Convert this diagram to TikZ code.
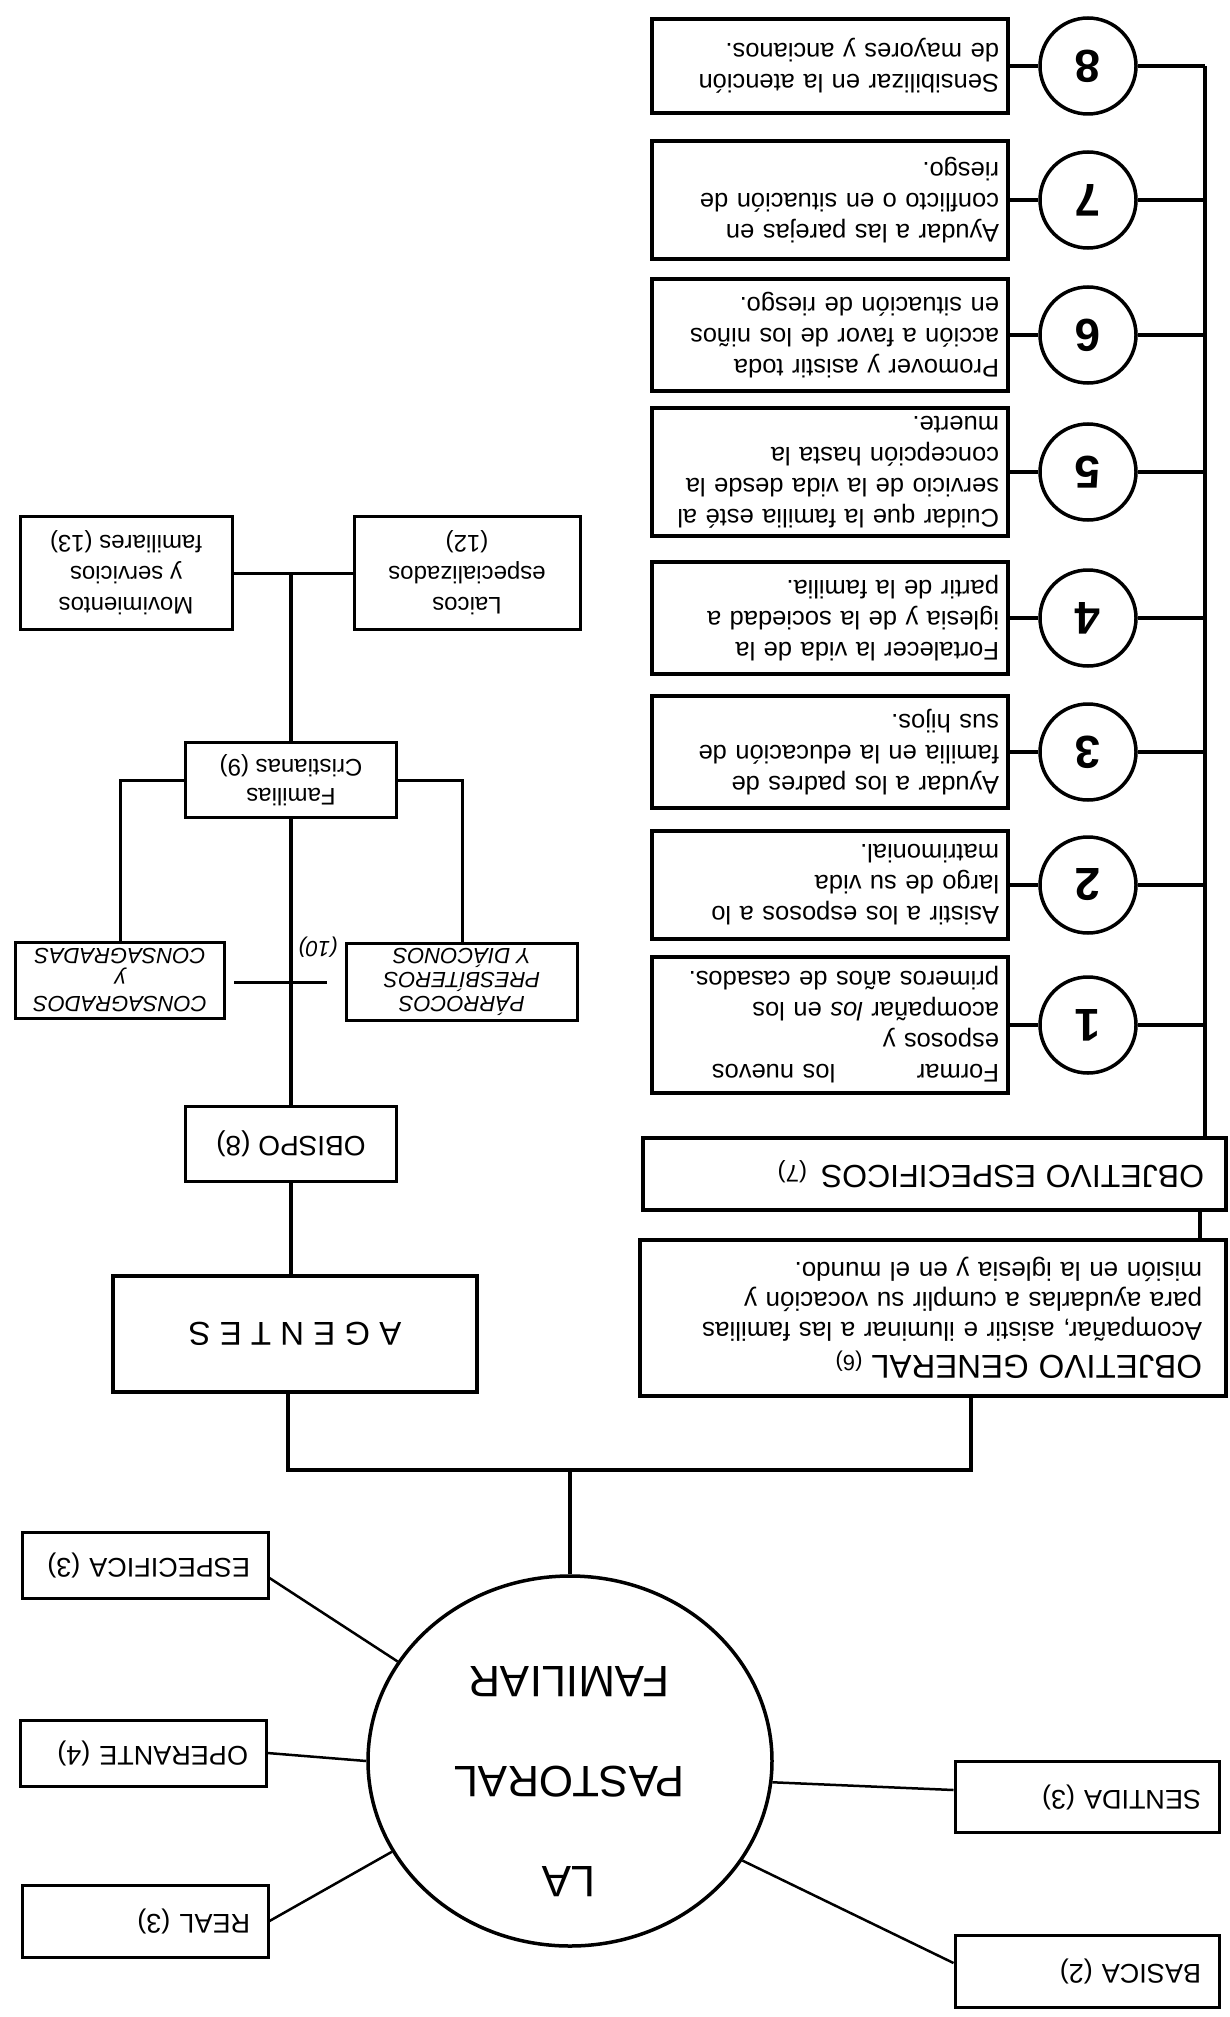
\documentclass[tikz,border=0pt]{standalone}
\usepackage{fontspec}
\setmainfont{Liberation Sans}
\usetikzlibrary{calc,shapes.geometric}
\begin{document}
\begin{tikzpicture}[x=-1pt,y=1pt,rotate=180,transform shape,
  tbox/.style={draw,line width=3.5pt,rectangle,inner ysep=0pt,align=left},
  rbox/.style={tbox,text width=338pt,inner xsep=9pt,minimum width=356pt,font=\fontsize{25.5}{31}\selectfont},
  num/.style={draw,circle,line width=3.5pt,minimum size=96pt,inner sep=0pt,font=\fontsize{46}{46}\selectfont\bfseries},
  sbox/.style={tbox,line width=3pt,align=center,inner xsep=4pt,font=\fontsize{24}{29}\selectfont},
  hbox/.style={tbox,line width=3pt,align=center,inner xsep=4pt,font=\fontsize{22}{24}\selectfont\itshape},
  lbox/.style={tbox,line width=3pt,inner xsep=18pt,font=\fontsize{27}{30}\selectfont},
  conn/.style={line width=3.5pt},
  thin/.style={line width=3pt},
  spoke/.style={line width=2.5pt}]
\useasboundingbox (0,0) rectangle (1229,2017);
% ---- right column: specific objectives
\node[rbox,minimum height=94pt] (b8) at (830,66) {Sensibilizar en la atención\\de mayores y ancianos.};
\node[rbox,minimum height=118pt] (b7) at (830,200) {Ayudar a las parejas en\\conflicto o en situación de\\riesgo.};
\node[rbox,minimum height=112pt] (b6) at (830,335) {Promover y asistir toda\\acción a favor de los niños\\en situación de riesgo.};
\node[rbox,minimum height=128pt] (b5) at (830,472) {\mbox{Cuidar que la familia esté al}\\servicio de la vida desde la\\concepción hasta la\\muerte.};
\node[rbox,minimum height=112pt] (b4) at (830,618) {Fortalecer la vida de la\\iglesia y de la sociedad a\\partir de la familia.};
\node[rbox,minimum height=112pt] (b3) at (830,752) {Ayudar a los padres de\\familia en la educación de\\sus hijos.};
\node[rbox,minimum height=108pt] (b2) at (830,885) {Asistir a los esposos a lo\\largo de su vida\\matrimonial.};
\node[rbox,minimum height=136pt] (b1) at (830,1025) {Formar\hspace{3.2em}los nuevos\\esposos y\\acompañar {\itshape los} en los\\primeros años de casados.};
\foreach \i/\y in {8/66,7/200,6/335,5/472,4/618,3/752,2/885,1/1025}{
  \node[num] (c\i) at (1088,\y) {\i};
}
\coordinate (bus) at (1205,0);
\foreach \i in {1,...,8}{
  \draw[conn] (b\i) -- (c\i);
  \draw[conn] (c\i) -- (c\i -| bus);
}
\node[tbox,text width=539pt,inner xsep=22pt,minimum height=72pt,font=\fontsize{32}{34}\selectfont] (oesp) at (934.5,1174)
  {OBJETIVO\hspace{0.3em}ESPECIFICOS\hspace{14pt}{\fontsize{24}{26}\selectfont (7)}};
\draw[conn] (c8 -| bus) -- (bus |- oesp.south);
\node[tbox,text width=538pt,inner xsep=24pt,minimum height=156pt,font=\fontsize{26}{30}\selectfont] (ogen) at (933,1318)
  {{\fontsize{33}{36}\selectfont OBJETIVO\hspace{0.3em}GENERAL} {\fontsize{22}{24}\selectfont (6)}\\[3pt]
   Acompañar, asistir e iluminar a las familias\\para ayudarlas a cumplir su vocación y\\misión en la iglesia y en el mundo.};
\coordinate (k) at (1200,0);
\draw[conn] (k |- oesp.north) -- (k |- ogen.south);
% ---- agents
\node[tbox,minimum width=364pt,minimum height=116pt,align=center,inner xsep=0pt,font=\fontsize{33}{36}\selectfont] (ag) at (295,1334) {A G E N T E S};
\node[tbox,minimum width=211pt,minimum height=75pt,align=center,inner xsep=0pt,font=\fontsize{28}{30}\selectfont] (ob) at (291,1144) {OBISPO (8)};
\node[sbox,minimum width=211pt,minimum height=75pt] (fam) at (291,780) {Familias\\Cristianas (9)};
\node[sbox,minimum width=226pt,minimum height=113pt,font=\fontsize{24}{31}\selectfont] (lai) at (467,573) {Laicos\\especializados\\(12)};
\node[sbox,minimum width=212pt,minimum height=113pt,font=\fontsize{24}{31}\selectfont] (mov) at (126,573) {Movimientos\\y servicios\\familiares (13)};
\node[hbox,minimum width=209pt,minimum height=76pt] (cons) at (120,980) {CONSAGRADOS\\y\\CONSAGRADAS};
\node[hbox,minimum width=231pt,minimum height=77pt] (parr) at (462,982) {PÁRROCOS\\PRESBÍTEROS\\Y DIÁCONOS};
\node[font=\fontsize{22}{24}\selectfont\itshape,inner sep=0pt] (p10) at (318,947) {(10)};
\coordinate (jR) at (971,1470);
\coordinate (jL) at (288,1470);
\coordinate (jE) at (570,1470);
\coordinate (xl) at (234,982);
\coordinate (xr) at (327,982);
\draw[conn] (jR |- ogen.north) -- (jR) -- (jL) -- (jL |- ag.north);
\draw[conn] (ob.north) -- (ob.north |- ag.south);
\draw[conn] (fam.north) -- (fam.north |- ob.south);
\draw[thin] (xl) -- (xr);
\draw[thin] (fam.east) -| (cons.south);
\draw[thin] (fam.west) -| (parr.south);
\draw[thin] (mov.west) -- (lai.east);
\draw[conn] (fam.south) -- (fam.south |- mov.west);
% ---- la pastoral familiar
\node[draw,ellipse,line width=3.5pt,minimum width=404pt,minimum height=370pt,inner sep=0pt] (ell) at (570,1761) {};
\node[font=\fontsize{44}{100}\selectfont,align=center] (lpf) at (569,1782) {LA\\PASTORAL\\FAMILIAR};
\draw[conn] (jE) -- (ell.south);
\node[lbox,text width=210pt,minimum height=66pt] (esp) at (145,1565) {ESPECIFICA (3)};
\node[lbox,text width=210pt,minimum height=66pt] (oper) at (143,1753) {OPERANTE (4)};
\node[lbox,text width=210pt,minimum height=72pt] (real) at (145,1921) {REAL (3)};
\node[lbox,text width=228pt,minimum height=71pt] (sent) at (1087,1797) {SENTIDA (3)};
\node[lbox,text width=228pt,minimum height=72pt] (bas) at (1087,1971) {BASICA (2)};
\draw[spoke] ($(esp.west)+(0,13)$) -- (ell.330);
\draw[spoke] (oper.west) -- (ell.0);
\draw[spoke] (real.west) -- (ell.27);
\draw[spoke] (ell.174) -- ($(sent.east)+(0,-7)$);
\draw[spoke] (ell.150) -- ($(bas.east)+(0,-8)$);
\end{tikzpicture}
\end{document}
